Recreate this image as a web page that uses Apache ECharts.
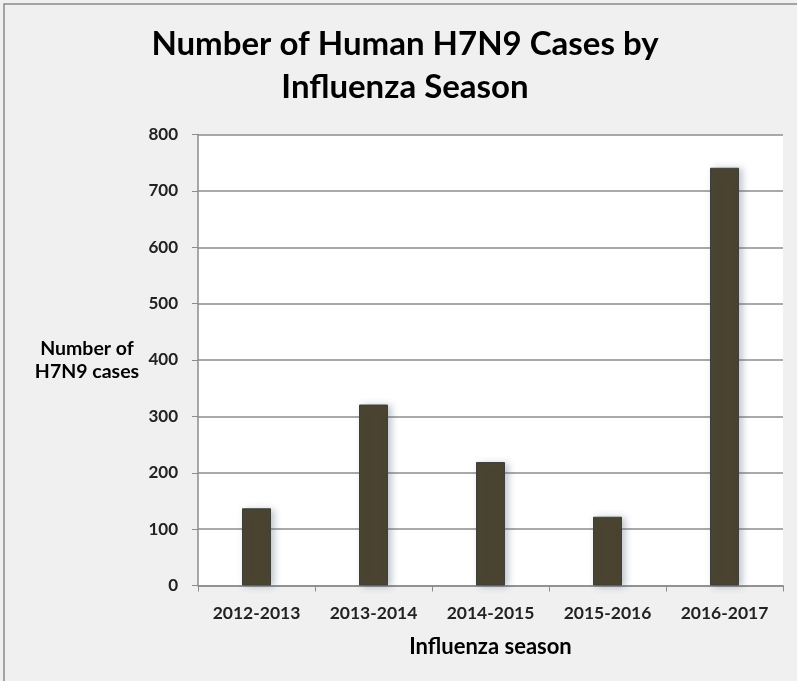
<!DOCTYPE html>
<html><head><meta charset="utf-8">
<script src="https://cdn.jsdelivr.net/npm/echarts@6/dist/echarts.min.js"></script>
<style>html,body{margin:0;padding:0;background:#f0f0f0}#c{width:797px;height:681px}</style>
</head><body><div id="c"></div>
<script>
var categories = ['2012-2013','2013-2014','2014-2015','2015-2016','2016-2017'];
var cases = [137, 321, 219, 122, 741];
var yTicks = [0,100,200,300,400,500,600,700,800];
var titleText = 'Number of Human H7N9 Cases by\nInfluenza Season';
var yName = 'Number of\nH7N9 cases';
var xName = 'Influenza season';

var chart = echarts.init(document.getElementById('c'));
var font = 'Lato';
chart.setOption({
  backgroundColor: '#f0f0f0',
  animation: false,
  graphic: [{type:'rect', shape:{x:4,y:4,width:820,height:700}, style:{fill:'none', stroke:'#8a8a8a', lineWidth:1.5}, silent:true}],
  title: {
    text: titleText, left: 400, top: 18, textAlign: 'center',
    textStyle: {fontFamily: font, fontWeight: 'bold', fontSize: 33, color: '#000', lineHeight: 43}
  },
  grid: {left: 198, right: 14, top: 134.5, bottom: 95.5, show: true, backgroundColor: '#fff', borderWidth: 0},
  xAxis: {
    type: 'category', data: categories,
    name: xName, nameLocation: 'middle', nameGap: 50,
    nameTextStyle: {fontFamily: font, fontWeight: 'bold', fontSize: 22, color: '#000'},
    axisLine: {lineStyle: {color: '#8c8c8c', width: 1.5}},
    axisTick: {show: true, length: 6, lineStyle: {color: '#8c8c8c'}},
    axisLabel: {fontFamily: font, fontWeight: 'bold', fontSize: 17.5, color: '#222', margin: 19}
  },
  yAxis: {
    type: 'value', min: 0, max: 800, interval: 100,
    name: yName, nameLocation: 'middle', nameGap: 111, nameRotate: 0,
    nameTextStyle: {fontFamily: font, fontWeight: 'bold', fontSize: 19.5, color: '#000', align: 'center', lineHeight: 23},
    axisLine: {show: true, lineStyle: {color: '#8c8c8c', width: 1.5}},
    axisTick: {show: true, length: 6, lineStyle: {color: '#8c8c8c'}},
    axisLabel: {fontFamily: font, fontWeight: 'bold', fontSize: 17, color: '#222', margin: 20,
      formatter: function(v){ return yTicks.indexOf(v) >= 0 ? String(v) : ''; }},
    splitLine: {lineStyle: {color: '#8c8c8c', width: 1.5}}
  },
  series: [{
    type: 'bar', data: cases, barWidth: 29,
    itemStyle: {color: '#4a4330', borderColor: '#3e3e3a', borderWidth: 1,
      shadowBlur: 7, shadowOffsetX: 3, shadowOffsetY: 1, shadowColor: 'rgba(70,85,110,0.35)'}
  }]
});
</script></body></html>
